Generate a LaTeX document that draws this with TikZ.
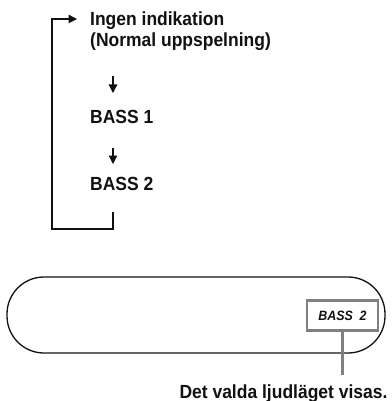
\documentclass[tikz,border=0pt]{standalone}
\usepackage{fontspec}
\setmainfont{Liberation Sans}[FakeStretch=0.92]
\usepackage{xcolor}
\usepackage{tikz}
\usetikzlibrary{arrows.meta,positioning,calc}
\definecolor{inkcol}{HTML}{111111}
\definecolor{panelgray}{HTML}{808080}

\begin{document}
\begin{tikzpicture}[
    x=1pt, y=-1pt,
    font=\fontsize{19}{22}\selectfont\bfseries,
    every node/.style={inner sep=0pt, text=inkcol},
    flowarrow/.style={-{Triangle[width=8.5pt,length=8.5pt]}, draw=inkcol, line width=1.2pt},
    loopline/.style={draw=inkcol, line width=1.2pt},
]
\useasboundingbox (0,0) rectangle (391,401);

% ============================================================
% MODE SEQUENCE
% ============================================================
\node[anchor=base west] (ingen) at (90,26) {Ingen indikation};
\node[anchor=base west] (normal) at (90,47) {(Normal uppspelning)};
\node[anchor=base west] (bass1) at (90,123) {BASS 1};
\node[anchor=base west] (bass2) at (90,190) {BASS 2};

% Arrows between modes
\coordinate (a1top) at (113,76.5);
\coordinate (a1end) at (113,93);
\coordinate (a2top) at (113,147.5);
\coordinate (a2end) at (113,164);
\draw[flowarrow] (a1top) -- (a1end);
\draw[flowarrow] (a2top) -- (a2end);

% Return loop
\coordinate (loopstart) at (113,212);
\coordinate (loopcorner) at (52,229);
\coordinate (loopend) at (77,19);
\draw[loopline, flowarrow] (loopstart) -- (113,229) -- (loopcorner) -- (52,19) -- (loopend);

% ============================================================
% DISPLAY WINDOW
% ============================================================
\draw[inkcol, line width=1.3pt, rounded corners=37pt] (7,277) rectangle (385,353);

\node[draw=panelgray, line width=2.5pt, minimum width=71pt, minimum height=30pt,
      font=\fontsize{13.5}{15}\selectfont\bfseries\itshape] (display) at (342.5,315.5) {BASS\ \ 2};

% Callout
\node[anchor=base] (caption) at (283.5,398) {Det valda ljudläget visas.};
\coordinate (stemend) at (display.south |- 0,375);
\draw[panelgray, line width=2.5pt] (display.south) -- (stemend);

\end{tikzpicture}
\end{document}
